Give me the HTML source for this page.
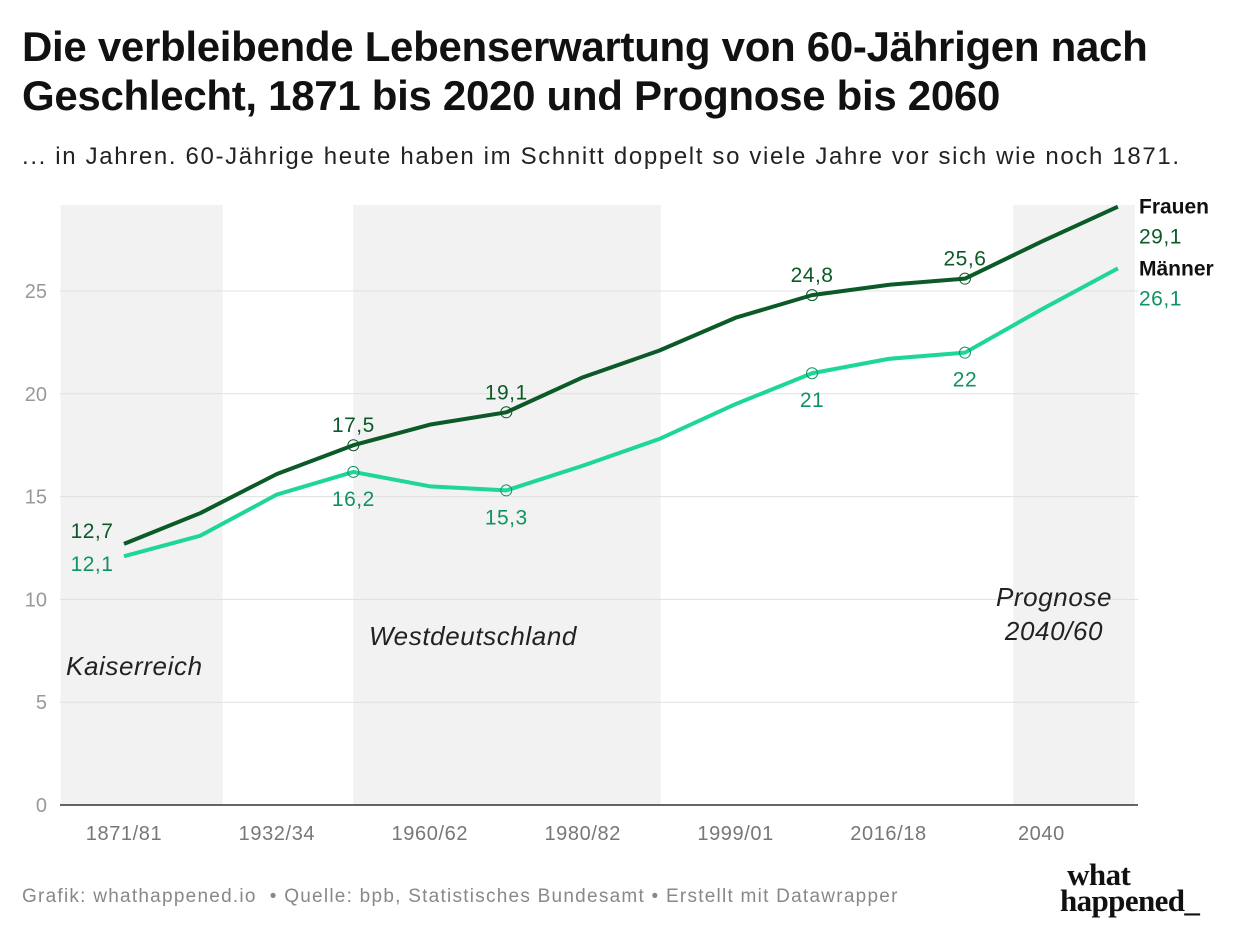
<!DOCTYPE html>
<html><head><meta charset="utf-8"><style>
body{margin:0;background:#fff;font-family:"Liberation Sans",sans-serif;}
#wrap{position:relative;width:1240px;height:942px;overflow:hidden;}
h1{position:absolute;left:22px;top:22px;margin:0;font-size:42px;line-height:49px;font-weight:bold;color:#111;letter-spacing:-0.3px;white-space:nowrap;}
.sub{position:absolute;left:22px;top:143px;font-size:24px;letter-spacing:1.65px;color:#222;white-space:nowrap;}
.foot{position:absolute;left:22px;top:886px;font-size:19px;letter-spacing:1.25px;color:#888;white-space:nowrap;}
.logo{position:absolute;left:1060px;top:862px;font-family:"Liberation Serif",serif;font-weight:bold;font-size:31px;line-height:26px;color:#111;letter-spacing:-0.6px;}
</style></head><body><div id="wrap">
<h1>Die verbleibende Lebenserwartung von 60-Jährigen nach<br>Geschlecht, 1871 bis 2020 und Prognose bis 2060</h1>
<div class="sub">... in Jahren. 60-Jährige heute haben im Schnitt doppelt so viele Jahre vor sich wie noch 1871.</div>
<svg id="c" width="1240" height="942" style="position:absolute;left:0;top:0"></svg>
<div class="foot">Grafik: whathappened.io &nbsp;• Quelle: bpb, Statistisches Bundesamt • Erstellt mit Datawrapper</div>
<div class="logo">&nbsp;what<br>happened_</div>
</div>
<script>
const categories=["1871/81","1901/10","1932/34","1949/51","1960/62","1970/72","1980/82","1991/93","1999/01","2009/11","2016/18","2019/21","2040","2060"];
const frauen=[12.7,14.2,16.1,17.5,18.5,19.1,20.8,22.1,23.7,24.8,25.3,25.6,27.4,29.1];
const maenner=[12.1,13.1,15.1,16.2,15.5,15.3,16.5,17.8,19.5,21.0,21.7,22.0,24.1,26.1];
const yTicks=[0,5,10,15,20,25];
const regions=[["Kaiserreich",-0.83,1.29],["Westdeutschland",3,7.02],["Prognose",11.63,13.22]];
const annotF=[0,3,5,9,11];
const annotM=[0,3,5,9,11];
const NS="http://www.w3.org/2000/svg";
const svg=document.getElementById('c');
const X=i=>124+i*76.45;
const Y=v=>805-v*20.56;
function el(t,a,txt){const e=document.createElementNS(NS,t);for(const k in a)e.setAttribute(k,a[k]);if(txt!==undefined)e.textContent=txt;svg.appendChild(e);return e;}
regions.forEach(r=>{const e=el('rect',{x:X(r[1]),y:205,width:X(r[2])-X(r[1]),height:600,fill:'#f2f2f2'});

});
yTicks.forEach(t=>{if(t>0){const l=el('line',{x1:60,x2:1138,y1:Y(t),y2:Y(t),stroke:'#e0e0e0','stroke-width':1});

}
const tx=el('text',{x:47,y:Y(t)+7,'text-anchor':'end','font-size':20,fill:'#999'},t);

});
const ax=el('line',{x1:60,x2:1138,y1:805,y2:805,stroke:'#333','stroke-width':1.5});


categories.forEach((c,i)=>{if(i%2===0){const t=el('text',{x:X(i),y:840,'text-anchor':'middle','font-size':20,'letter-spacing':0.6,fill:'#777'},c);

}});
const it=(s,x,y,a)=>{const t=el('text',{x:x,y:y,'text-anchor':a||'start','font-size':26,'letter-spacing':0.6,'font-style':'italic',fill:'#222'},s);

};
it("Kaiserreich",66,675);it("Westdeutschland",369,645);it("Prognose",1054,606,'middle');it("2040/60",1054,640,'middle');
function line(d,col,name){const p=el('polyline',{points:d.map((v,i)=>X(i)+','+Y(v)).join(' '),fill:'none',stroke:col,'stroke-width':4,'stroke-linejoin':'round'});

}
line(maenner,'#1ed696','line-maenner');line(frauen,'#0b5a27','line-frauen');
function ann(d,idx,col,above){idx.forEach(i=>{if(i>0){const c=el('circle',{cx:X(i),cy:Y(d[i]),r:5.5,fill:'none',stroke:col,'stroke-width':1});

}
const lab=String(d[i]).replace('.',',');
const x=i===0?X(i)-32:X(i),y=above?Y(d[i])-13:Y(d[i])+34;
const t=el('text',{x:x,y:i===0?(above?Y(d[i])-6:Y(d[i])+15):y,'text-anchor':'middle','font-size':21,'letter-spacing':0.5,fill:above?'#0b5a27':'#0f9460'},lab);

});}
ann(frauen,annotF,'#0b5a27',true);ann(maenner,annotM,'#0f9460',false);
const lg=[["Frauen",frauen,"#0b5a27"],["Männer",maenner,"#0f9460"]];
lg.forEach(g=>{const v=g[1][g[1].length-1];const yy=Y(v);
const a=el('text',{x:1139,y:yy+7,'font-size':21,'font-weight':'bold',fill:'#111'},g[0]);


const b=el('text',{x:1139,y:yy+37,'font-size':21,'letter-spacing':0.5,fill:g[2]},String(v).replace('.',','));

});
</script></body></html>
